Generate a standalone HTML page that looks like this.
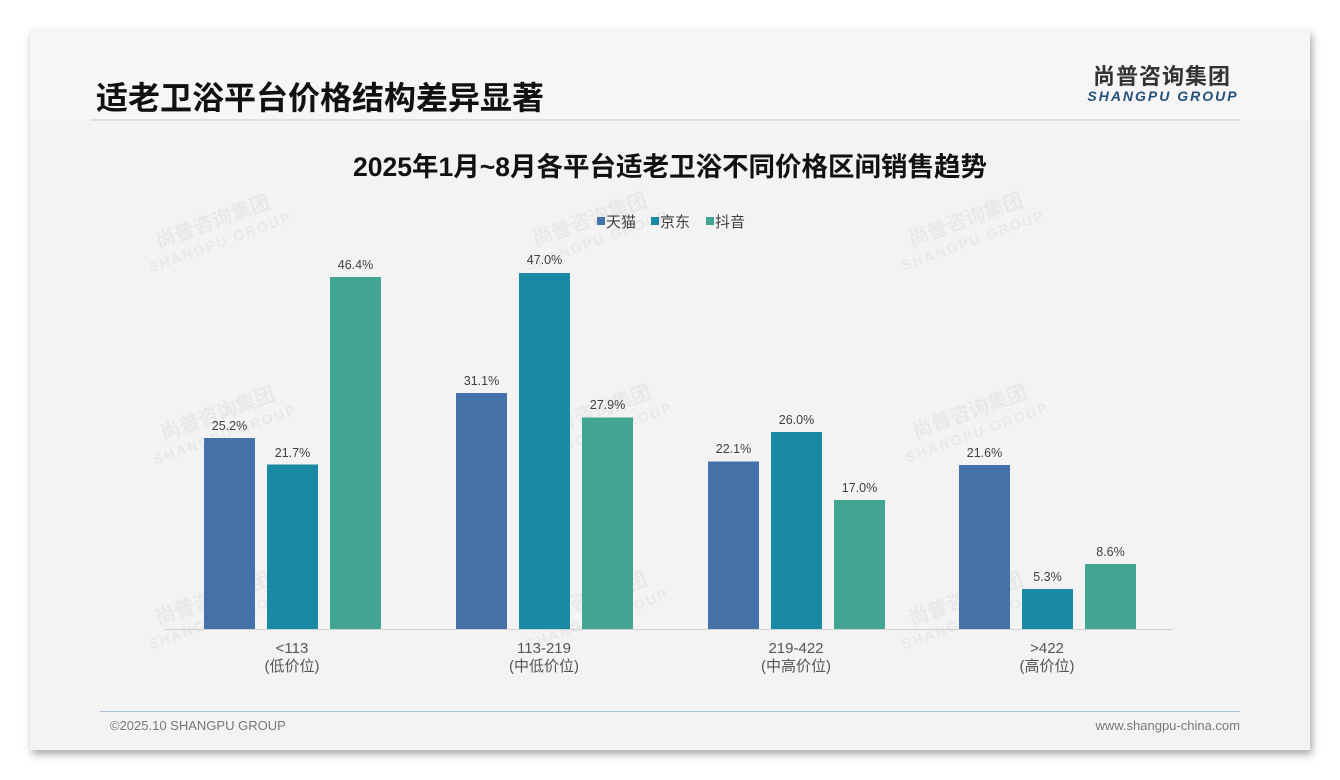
<!DOCTYPE html>
<html><head><meta charset="utf-8"><style>
body{margin:0;background:#fff;width:1340px;height:780px;overflow:hidden;font-family:"Liberation Sans","Noto Sans CJK SC",sans-serif}
.card{position:absolute;left:30px;top:30px;width:1280px;height:720px;background:#f3f3f3;box-shadow:2px 4px 8px rgba(0,0,0,.35)}
.hdr{position:absolute;left:0;top:0;width:1280px;height:90px;background:#f6f6f6}
</style></head><body>
<div class="card"><div class="hdr"></div></div>
<svg width="1340" height="780" style="position:absolute;left:0;top:0" font-family="Liberation Sans, Noto Sans CJK SC, sans-serif">
<g fill="#e8e8e8" font-weight="bold" font-size="20" text-anchor="middle">
<g transform="translate(215,228) rotate(-20)"><text>尚普咨询集团</text><text y="20" font-size="14" letter-spacing="2">SHANGPU GROUP</text></g>
<g transform="translate(592,226) rotate(-20)"><text>尚普咨询集团</text><text y="20" font-size="14" letter-spacing="2">SHANGPU GROUP</text></g>
<g transform="translate(968,226) rotate(-20)"><text>尚普咨询集团</text><text y="20" font-size="14" letter-spacing="2">SHANGPU GROUP</text></g>
<g transform="translate(220,420) rotate(-20)"><text>尚普咨询集团</text><text y="20" font-size="14" letter-spacing="2">SHANGPU GROUP</text></g>
<g transform="translate(596,418) rotate(-20)"><text>尚普咨询集团</text><text y="20" font-size="14" letter-spacing="2">SHANGPU GROUP</text></g>
<g transform="translate(972,418) rotate(-20)"><text>尚普咨询集团</text><text y="20" font-size="14" letter-spacing="2">SHANGPU GROUP</text></g>
<g transform="translate(215,605) rotate(-20)"><text>尚普咨询集团</text><text y="20" font-size="14" letter-spacing="2">SHANGPU GROUP</text></g>
<g transform="translate(592,605) rotate(-20)"><text>尚普咨询集团</text><text y="20" font-size="14" letter-spacing="2">SHANGPU GROUP</text></g>
<g transform="translate(968,605) rotate(-20)"><text>尚普咨询集团</text><text y="20" font-size="14" letter-spacing="2">SHANGPU GROUP</text></g>
</g>
<text x="96" y="109" font-size="32" font-weight="bold" fill="#111">适老卫浴平台价格结构差异显著</text>
<line x1="90" y1="120" x2="1240" y2="120" stroke="#e0e0e0" stroke-width="2"/>
<text x="1162" y="84" font-size="22" font-weight="bold" fill="#333" text-anchor="middle" letter-spacing="1">尚普咨询集团</text>
<text x="1163" y="101" font-size="14" font-weight="bold" font-style="italic" fill="#24507a" text-anchor="middle" letter-spacing="2">SHANGPU GROUP</text>
<text x="670" y="176" font-size="26.5" font-weight="bold" fill="#111" text-anchor="middle">2025年1月~8月各平台适老卫浴不同价格区间销售趋势</text>
<g font-size="15" fill="#404040">
<rect x="597" y="217" width="8" height="8" fill="#4472a8"/><text x="606" y="227">天猫</text>
<rect x="651" y="217" width="8" height="8" fill="#1a89a3"/><text x="660" y="227">京东</text>
<rect x="706" y="217" width="8" height="8" fill="#42a591"/><text x="715" y="227">抖音</text>
</g>
<g>
<rect x="204" y="438" width="51" height="191" fill="#4472a8"/>
<rect x="267" y="464.5" width="51" height="164.5" fill="#1a89a3"/>
<rect x="330" y="277" width="51" height="352" fill="#42a591"/>
<rect x="456" y="393" width="51" height="236" fill="#4472a8"/>
<rect x="519" y="273" width="51" height="356" fill="#1a89a3"/>
<rect x="582" y="417.5" width="51" height="211.5" fill="#42a591"/>
<rect x="708" y="461.5" width="51" height="167.5" fill="#4472a8"/>
<rect x="771" y="432" width="51" height="197" fill="#1a89a3"/>
<rect x="834" y="500" width="51" height="129" fill="#42a591"/>
<rect x="959" y="465" width="51" height="164" fill="#4472a8"/>
<rect x="1022" y="589" width="51" height="40" fill="#1a89a3"/>
<rect x="1085" y="564" width="51" height="65" fill="#42a591"/>
</g>
<line x1="165" y1="629.5" x2="1173" y2="629.5" stroke="#d0d0d0"/>
<g font-size="12.5" fill="#404040" text-anchor="middle">
<text x="229.5" y="430">25.2%</text><text x="292.5" y="457">21.7%</text><text x="355.5" y="269">46.4%</text>
<text x="481.5" y="385">31.1%</text><text x="544.5" y="264">47.0%</text><text x="607.5" y="409">27.9%</text>
<text x="733.5" y="453">22.1%</text><text x="796.5" y="424">26.0%</text><text x="859.5" y="492">17.0%</text>
<text x="984.5" y="457">21.6%</text><text x="1047.5" y="581">5.3%</text><text x="1110.5" y="556">8.6%</text>
</g>
<g font-size="15" fill="#555" text-anchor="middle">
<text x="292" y="653">&lt;113</text><text x="292" y="671">(低价位)</text>
<text x="544" y="653">113-219</text><text x="544" y="671">(中低价位)</text>
<text x="796" y="653">219-422</text><text x="796" y="671">(中高价位)</text>
<text x="1047" y="653">&gt;422</text><text x="1047" y="671">(高价位)</text>
</g>
<line x1="100" y1="711.5" x2="1240" y2="711.5" stroke="#a9c0d8"/>
<text x="110" y="730" font-size="13" fill="#777">©2025.10 SHANGPU GROUP</text>
<text x="1240" y="730" font-size="13" fill="#777" text-anchor="end">www.shangpu-china.com</text>
</svg>
</body></html>
